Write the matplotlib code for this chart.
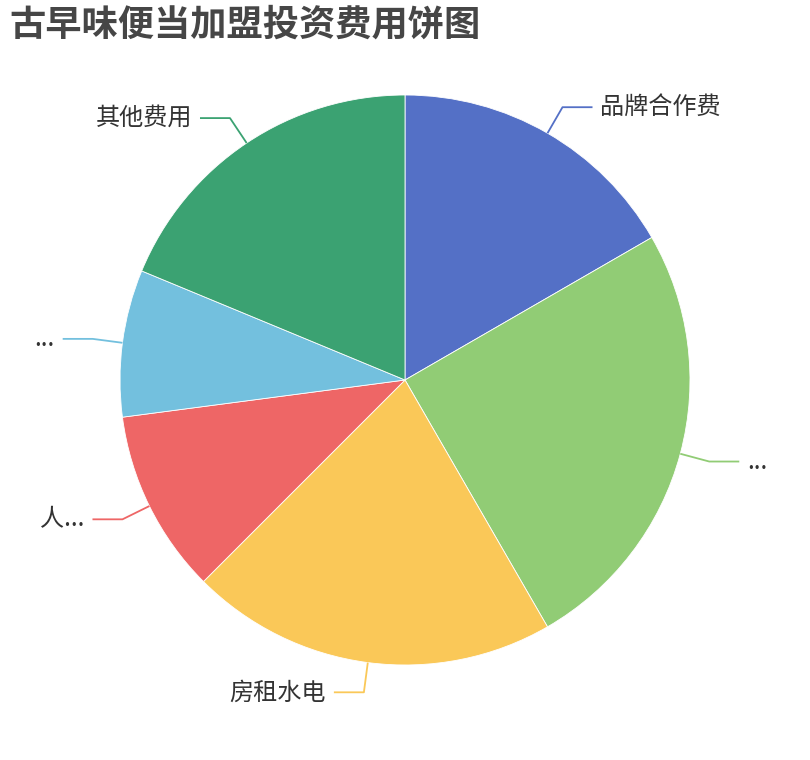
import matplotlib
matplotlib.use("Agg")
import matplotlib.pyplot as plt
import numpy as np

plt.rcParams["font.family"] = ["Noto Sans CJK SC", "DejaVu Sans"]

TITLE = "古早味便当加盟投资费用饼图"
labels = ["品牌合作费", "...", "房租水电", "人...", "...", "其他费用"]
values = [8, 12, 10, 5, 4, 9]
colors = ["#5470c6", "#91cc75", "#fac858", "#ee6666", "#73c0de", "#3ba272"]

W, H = 810, 760
CX, CY, R = 405, 380, 285

fig = plt.figure(figsize=(W / 100, H / 100), dpi=100)
ax = fig.add_axes([0, 0, 1, 1])

wedges, _ = ax.pie(
    values,
    colors=colors,
    startangle=90,
    counterclock=False,
    center=(CX, H - CY),
    radius=R,
    wedgeprops=dict(edgecolor="white", linewidth=0.6),
)
ax.set_xlim(0, W)
ax.set_ylim(0, H)
ax.set_aspect("equal")
ax.axis("off")

# label lines: radial segment then horizontal segment, as in echarts
for w, lab, col in zip(wedges, labels, colors):
    mid = np.deg2rad((w.theta1 + w.theta2) / 2)
    cx, cy = w.center
    x0, y0 = cx + R * np.cos(mid), cy + R * np.sin(mid)
    x1, y1 = cx + (R + 30) * np.cos(mid), cy + (R + 30) * np.sin(mid)
    side = 1 if x1 >= cx else -1
    x2 = x1 + side * 30
    ax.plot([x0, x1, x2], [y0, y1, y1], color=col, lw=1.3, solid_capstyle="butt")
    ax.text(x2 + side * 8, y1, lab, ha="left" if side > 0 else "right",
            va="center", fontsize=17.4, color="#333333")

fig.text(9 / W, 1 - 25 / H, TITLE, fontsize=26.1, fontweight="bold",
         color="#464646", ha="left", va="center")

fig.savefig("out.png", dpi=100)
